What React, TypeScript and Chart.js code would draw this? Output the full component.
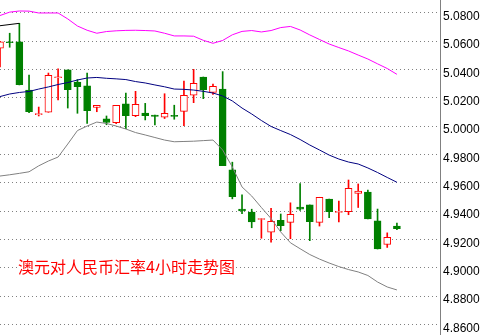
import React, { useEffect, useRef } from "react";
import { Chart, registerables } from "chart.js";

Chart.register(...registerables);

const TITLE = "澳元对人民币汇率4小时走势图";

// 4-hour candles (index = bar number)
const opens = [
  5.0549, 5.0593, 5.0595, 5.0254, 5.008, 5.0097, 5.0341, 5.0396, 5.0311, 5.0283,
  5.0132, 5.005, 5.0024, 5.0156, 5.0074, 5.0092, 5.0078, 5.0062, 5.0076, 5.0104,
  5.0217, 5.0346, 5.0238, 5.026, 4.969, 4.9414, 4.9392, 4.934, 4.925, 4.9335,
  4.932, 4.9428, 4.9443, 4.932, 4.9485, 4.939, 4.9395, 4.9524, 4.9534, 4.933,
  4.9164, 4.9294,
];
const highs = [
  5.0598, 5.0655, 5.0725, 5.036, 5.0134, 5.0374, 5.0403, 5.0396, 5.0328, 5.0374,
  5.0146, 5.0071, 5.0146, 5.0232, 5.0245, 5.016, 5.0078, 5.0228, 5.0147, 5.0318,
  5.04, 5.0346, 5.0297, 5.0384, 4.9745, 4.9515, 4.9413, 4.9346, 4.9419, 4.9379,
  4.9458, 4.9593, 4.9443, 4.9497, 4.9485, 4.9471, 4.9619, 4.9591, 4.9548, 4.9414,
  4.9246, 4.9315,
];
const lows = [
  5.0417, 5.0556, 5.029, 5.0094, 5.0071, 5.0097, 5.0184, 5.0127, 5.009, 5.0019,
  5.0101, 5.0009, 5.0017, 4.9981, 5.0066, 5.0043, 5.0007, 5.0053, 5.0048, 5.0002,
  5.0165, 5.0193, 5.0224, 4.972, 4.9486, 4.9381, 4.9282, 4.9208, 4.918, 4.9261,
  4.9205, 4.9404, 4.9191, 4.9294, 4.9354, 4.9324, 4.9374, 4.9425, 4.9345, 4.9132,
  4.9143, 4.9268,
];
const closes = [
  5.0595, 5.0588, 5.0292, 5.0101, 5.0085, 5.0358, 5.0346, 5.0257, 5.0278, 5.0108,
  5.0146, 5.0025, 5.0146, 5.0073, 5.0154, 5.0073, 5.0068, 5.009, 5.0067, 5.0217,
  5.0302, 5.0257, 5.0281, 4.972, 4.9501, 4.94, 4.9324, 4.9346, 4.9328, 4.9296,
  4.9377, 4.9414, 4.9325, 4.9497, 4.9395, 4.9394, 4.956, 4.954, 4.9345, 4.9132,
  4.9215, 4.9275,
];

// Bollinger bands
const upperBand = [
  5.078, 5.0804, 5.0812, 5.0811, 5.0798, 5.0798, 5.0798, 5.0756, 5.0706, 5.0676,
  5.0655, 5.0667, 5.0672, 5.0675, 5.0676, 5.0674, 5.0671, 5.0655, 5.0636, 5.0636,
  5.0634, 5.0605, 5.0584, 5.0604, 5.0644, 5.0668, 5.0674, 5.0664, 5.0674, 5.0695,
  5.0703, 5.0678, 5.0643, 5.0611, 5.0579, 5.0554, 5.053, 5.0501, 5.0473, 5.0439,
  5.0406, 5.0365,
];
const middleBand = [
  5.0208, 5.0226, 5.0237, 5.0244, 5.0261, 5.0276, 5.0293, 5.0307, 5.0325, 5.0339,
  5.0343, 5.0337, 5.0333, 5.0328, 5.0314, 5.0304, 5.029, 5.0277, 5.0261, 5.0259,
  5.0254, 5.0245, 5.0233, 5.0212, 5.0177, 5.0127, 5.0085, 5.0039, 4.9997, 4.9968,
  4.994, 4.9905, 4.9866, 4.9831, 4.9795, 4.9767, 4.9746, 4.9732, 4.9704, 4.9672,
  4.9637, 4.9603,
];
const lowerBand = [
  4.9647, 4.9656, 4.9666, 4.9677, 4.9719, 4.9753, 4.9781, 4.9873, 4.9968, 5.0,
  5.0028, 5.0018, 5.0, 4.9979, 4.9954, 4.9937, 4.9919, 4.9901, 4.9889, 4.9891,
  4.9893, 4.9897, 4.9901, 4.9831, 4.9711, 4.957, 4.9506, 4.9425, 4.9347, 4.9252,
  4.9176, 4.9134, 4.9093, 4.9061, 4.9033, 4.9008, 4.8987, 4.897, 4.8945, 4.8899,
  4.8864, 4.8843,
];

// short black line at the top-left
const trendIdx = [0, 2];
const trendVals = [5.0708, 5.0725];

const yTicks = [4.86, 4.88, 4.9, 4.92, 4.94, 4.96, 4.98, 5.0, 5.02, 5.04, 5.06, 5.08];

const X_MIN = 0;
const X_MAX = 45.45;
const Y_MIN = 4.8525;
const Y_MAX = 5.08896;

const RED = "#FF0000";
const GREEN = "#008000";

export default function App() {
  const ref = useRef<HTMLCanvasElement | null>(null);

  useEffect(() => {
    document.body.style.margin = "0";
    document.body.style.overflow = "hidden";
    if (!ref.current) return;
    const up = closes.map((c, i) => c >= opens[i]);
    const chart = new Chart(ref.current, {
      type: "bar",
      data: {
        datasets: [
          {
            type: "line",
            data: upperBand.map((v, i) => ({ x: i, y: v })),
            borderColor: "#FF00FF",
            borderWidth: 1,
            pointRadius: 0,
            fill: false,
            tension: 0,
            order: 0,
          } as any,
          {
            type: "line",
            data: middleBand.map((v, i) => ({ x: i, y: v })),
            borderColor: "#000080",
            borderWidth: 1,
            pointRadius: 0,
            fill: false,
            tension: 0,
            order: 0,
          } as any,
          {
            type: "line",
            data: lowerBand.map((v, i) => ({ x: i, y: v })),
            borderColor: "#808080",
            borderWidth: 1,
            pointRadius: 0,
            fill: false,
            tension: 0,
            order: 0,
          } as any,
          {
            type: "line",
            data: trendVals.map((v, k) => ({ x: trendIdx[k], y: v })),
            borderColor: "#000000",
            borderWidth: 1,
            pointRadius: 0,
            fill: false,
            tension: 0,
            order: 0,
          } as any,
          {
            type: "bar",
            data: opens.map((o, i) => ({ x: i, y: [o, closes[i]] })),
            backgroundColor: up.map((u) => (u ? "#FFFFFF" : GREEN)),
            borderColor: up.map((u) => (u ? RED : GREEN)),
            borderWidth: 1,
            borderSkipped: false,
            barThickness: 7,
            minBarLength: 1,
            grouped: false,
            order: 1,
          } as any,
          {
            type: "bar",
            data: lows.map((l, i) => ({ x: i, y: [l, highs[i]] })),
            backgroundColor: up.map((u) => (u ? RED : GREEN)),
            borderWidth: 0,
            barThickness: 1,
            grouped: false,
            order: 2,
          } as any,
        ],
      },
      options: {
        animation: false,
        responsive: false,
        maintainAspectRatio: false,
        events: [],
        layout: { padding: 0 },
        plugins: {
          legend: { display: false },
          tooltip: { enabled: false },
          title: { display: false },
        },
        scales: {
          x: {
            type: "linear",
            min: X_MIN,
            max: X_MAX,
            display: false,
            offset: false,
            grid: { display: false },
          },
          y: {
            type: "linear",
            position: "right",
            min: Y_MIN,
            max: Y_MAX,
            bounds: "data",
            afterBuildTicks: (s: any) => {
              s.ticks = yTicks.map((v) => ({ value: v }));
            },
            afterFit: (s: any) => {
              s.width = 43;
              s.paddingTop = 0;
              s.paddingBottom = 0;
            },
            grid: { color: "#808080", lineWidth: 1, drawTicks: false },
            border: { display: true, color: "#808080", width: 1, dash: [1, 3] },
            ticks: {
              color: "#000000",
              font: { family: "'Liberation Sans', Arial, sans-serif", size: 12 },
              padding: 3,
              labelOffset: 4,
              autoSkip: false,
              callback: (v: any) => Number(v).toFixed(4),
            },
          },
        },
      } as any,
    });
    return () => chart.destroy();
  }, []);

  return (
    <div style={{ position: "relative", width: 483, height: 335, background: "#FFFFFF" }}>
      <canvas ref={ref} width={483} height={335} style={{ display: "block" }} />
      <div
        style={{
          position: "absolute",
          left: 18,
          top: 258,
          fontFamily: "'Noto Sans CJK SC', sans-serif",
          fontSize: 16,
          lineHeight: "17px",
          color: RED,
          background: "#FFFFFF",
          whiteSpace: "nowrap",
        }}
      >
        {TITLE}
      </div>
    </div>
  );
}
